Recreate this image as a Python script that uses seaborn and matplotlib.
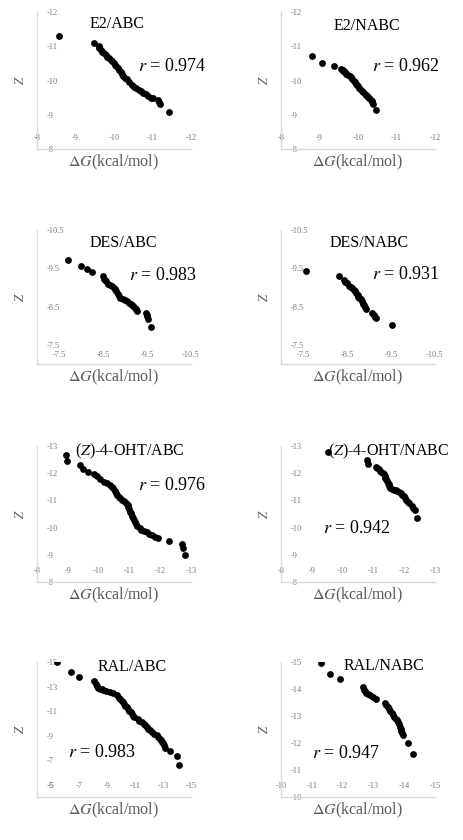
"""
Correlación entre ΔG de acoplamiento y puntuación Z
(8 paneles: E2, DES, (Z)-4-OHT y RAL frente a ABC / NABC).
"""

import matplotlib
matplotlib.use('Agg')
import matplotlib.pyplot as plt
import seaborn as sns
from matplotlib.ticker import FixedLocator, FuncFormatter

# ---- datos ----
e2_abc_dg = [-8.58, -9.48, -9.60, -9.62, -9.66, -9.70, -9.74, -9.78, -9.82, -9.88,
             -9.92, -9.96, -10.00, -10.03, -10.06, -10.10, -10.13, -10.17, -10.20, -10.24,
             -10.28, -10.33, -10.40, -10.46, -10.52, -10.58, -10.64, -10.70, -10.76, -10.82,
             -10.88, -10.96, -11.00, -11.14, -11.17, -11.20, -11.44]
e2_abc_z = [-11.30, -11.10, -11.02, -10.96, -10.90, -10.84, -10.80, -10.74, -10.70, -10.66,
            -10.60, -10.56, -10.50, -10.45, -10.41, -10.36, -10.30, -10.25, -10.20, -10.14,
            -10.08, -10.04, -9.97, -9.88, -9.82, -9.77, -9.72, -9.68, -9.64, -9.60,
            -9.56, -9.50, -9.48, -9.44, -9.38, -9.32, -9.09]

e2_nabc_dg = [-8.81, -9.07, -9.38, -9.57, -9.60, -9.62, -9.66, -9.70, -9.75, -9.79,
              -9.82, -9.85, -9.89, -9.92, -9.95, -9.97, -10.00, -10.03, -10.06, -10.10,
              -10.13, -10.17, -10.20, -10.23, -10.26, -10.29, -10.32, -10.36, -10.36, -10.38,
              -10.46]
e2_nabc_z = [-10.71, -10.52, -10.42, -10.34, -10.31, -10.27, -10.24, -10.20, -10.17, -10.13,
             -10.09, -10.05, -10.00, -9.95, -9.91, -9.87, -9.83, -9.79, -9.75, -9.70,
             -9.66, -9.61, -9.58, -9.54, -9.51, -9.48, -9.46, -9.41, -9.36, -9.31,
             -9.13]

des_abc_dg = [-7.71, -8.01, -8.14, -8.26, -8.51, -8.52, -8.54, -8.57, -8.62, -8.66,
              -8.70, -8.74, -8.77, -8.80, -8.83, -8.86, -8.89, -8.96, -9.00, -9.04,
              -9.10, -9.13, -9.16, -9.19, -9.23, -9.25, -9.27, -9.47, -9.49, -9.51,
              -9.53, -9.60]
des_abc_z = [-9.72, -9.57, -9.49, -9.41, -9.31, -9.23, -9.20, -9.16, -9.10, -9.07,
             -9.05, -8.99, -8.95, -8.91, -8.82, -8.78, -8.73, -8.69, -8.67, -8.65,
             -8.60, -8.56, -8.53, -8.52, -8.47, -8.43, -8.39, -8.33, -8.29, -8.26,
             -8.17, -7.97]

des_nabc_dg = [-7.56, -8.31, -8.43, -8.46, -8.50, -8.55, -8.58, -8.61, -8.66, -8.68,
               -8.70, -8.74, -8.76, -8.78, -8.81, -8.83, -8.86, -8.88, -8.90, -8.93,
               -9.07, -9.11, -9.13, -9.16, -9.53]
des_nabc_z = [-9.44, -9.29, -9.19, -9.15, -9.12, -9.05, -9.02, -8.99, -8.93, -8.90,
              -8.86, -8.79, -8.76, -8.73, -8.69, -8.65, -8.56, -8.53, -8.50, -8.43,
              -8.34, -8.28, -8.24, -8.19, -8.03]

oht_abc_dg = [-8.93, -8.99, -9.38, -9.49, -9.67, -9.84, -9.94, -10.05, -10.16, -10.27,
              -10.38, -10.43, -10.48, -10.54, -10.57, -10.61, -10.66, -10.70, -10.75, -10.81,
              -10.89, -10.94, -10.97, -11.00, -11.02, -11.05, -11.09, -11.12, -11.15, -11.19,
              -11.22, -11.26, -11.33, -11.39, -11.46, -11.56, -11.65, -11.73, -11.83, -11.94,
              -12.27, -12.70, -12.75, -12.82]
oht_abc_z = [-12.68, -12.44, -12.29, -12.17, -12.06, -11.97, -11.88, -11.78, -11.69, -11.63,
             -11.57, -11.51, -11.45, -11.33, -11.26, -11.20, -11.14, -11.08, -11.02, -10.98,
             -10.90, -10.82, -10.75, -10.68, -10.59, -10.52, -10.43, -10.36, -10.29, -10.21,
             -10.14, -10.07, -9.98, -9.92, -9.88, -9.82, -9.77, -9.74, -9.67, -9.61,
             -9.49, -9.39, -9.25, -9.00]

oht_nabc_dg = [-9.54, -10.79, -10.83, -11.09, -11.13, -11.17, -11.22, -11.26, -11.30, -11.34,
               -11.37, -11.39, -11.42, -11.45, -11.48, -11.50, -11.52, -11.55, -11.61, -11.66,
               -11.72, -11.77, -11.83, -11.88, -11.93, -11.99, -12.02, -12.07, -12.13, -12.17,
               -12.24, -12.29, -12.35, -12.42]
oht_nabc_z = [-12.78, -12.47, -12.32, -12.23, -12.19, -12.14, -12.09, -12.04, -11.99, -11.96,
              -11.90, -11.83, -11.77, -11.71, -11.65, -11.59, -11.53, -11.46, -11.43, -11.40,
              -11.37, -11.34, -11.30, -11.26, -11.21, -11.16, -11.10, -11.03, -10.95, -10.89,
              -10.79, -10.73, -10.64, -10.35]

ral_abc_dg = [-5.44, -6.44, -6.99, -8.09, -8.21, -8.31, -8.38, -8.50, -8.62, -8.74,
              -8.93, -9.22, -9.45, -9.74, -9.84, -9.93, -10.05, -10.12, -10.22, -10.32,
              -10.41, -10.51, -10.60, -10.70, -10.77, -10.84, -10.94, -11.18, -11.32, -11.49,
              -11.66, -11.75, -11.85, -11.94, -12.04, -12.21, -12.33, -12.56, -12.66, -12.76,
              -12.85, -12.92, -12.99, -13.09, -13.16, -13.52, -14.00, -14.12]
ral_abc_z = [-14.99, -14.21, -13.78, -13.46, -13.19, -13.05, -12.92, -12.84, -12.79, -12.70,
             -12.65, -12.52, -12.44, -12.30, -12.06, -11.95, -11.85, -11.71, -11.58, -11.44,
             -11.31, -11.17, -11.04, -10.91, -10.77, -10.64, -10.50, -10.32, -10.23, -10.15,
             -9.97, -9.83, -9.70, -9.56, -9.43, -9.30, -9.16, -9.03, -8.89, -8.76,
             -8.62, -8.49, -8.36, -8.22, -8.03, -7.77, -7.34, -6.61]

ral_nabc_dg = [-11.30, -11.58, -11.92, -12.65, -12.68, -12.72, -12.76, -12.83, -12.90, -12.98,
               -13.07, -13.37, -13.41, -13.46, -13.50, -13.54, -13.59, -13.63, -13.66, -13.72,
               -13.77, -13.80, -13.83, -13.86, -13.88, -13.90, -13.93, -13.96, -14.13, -14.28]
ral_nabc_z = [-14.96, -14.57, -14.36, -14.07, -13.95, -13.91, -13.86, -13.81, -13.77, -13.70,
              -13.64, -13.49, -13.40, -13.33, -13.27, -13.20, -13.12, -13.05, -12.96, -12.90,
              -12.84, -12.78, -12.72, -12.59, -12.53, -12.43, -12.36, -12.28, -12.00, -11.60]

titulos = ['E2/ABC', 'E2/NABC', 'DES/ABC', 'DES/NABC',
           '($Z$)-4-OHT/ABC', '($Z$)-4-OHT/NABC', 'RAL/ABC', 'RAL/NABC']
valores_r = ['0.974', '0.962', '0.983', '0.931', '0.976', '0.942', '0.983', '0.947']

lims = [(-8, -12), (-8, -12), (-7, -10.5), (-7, -10.5),
        (-8, -13), (-8, -13), (-4, -15), (-10, -15)]
ticks = [[-8, -9, -10, -11, -12], [-8, -9, -10, -11, -12],
         [-7.5, -8.5, -9.5, -10.5], [-7.5, -8.5, -9.5, -10.5],
         [-8, -9, -10, -11, -12, -13], [-8, -9, -10, -11, -12, -13],
         [-5, -7, -9, -11, -13, -15], [-10, -11, -12, -13, -14, -15]]

series = [(e2_abc_dg, e2_abc_z), (e2_nabc_dg, e2_nabc_z),
          (des_abc_dg, des_abc_z), (des_nabc_dg, des_nabc_z),
          (oht_abc_dg, oht_abc_z), (oht_nabc_dg, oht_nabc_z),
          (ral_abc_dg, ral_abc_z), (ral_nabc_dg, ral_nabc_z)]

# posiciones de texto (coordenadas de ejes)
pos_titulo = [(0.52, 0.91), (0.56, 0.90), (0.56, 0.90), (0.57, 0.90),
              (0.60, 0.96), (0.70, 0.96), (0.62, 0.96), (0.67, 0.97)]
pos_r = [(0.88, 0.60), (0.81, 0.60), (0.82, 0.66), (0.81, 0.67),
         (0.88, 0.71), (0.49, 0.39), (0.42, 0.33), (0.42, 0.32)]

sns.set_theme(style='white')
plt.rcParams['font.family'] = ['Liberation Serif', 'DejaVu Serif']
plt.rcParams['mathtext.fontset'] = 'stix'

GRIS = '#595959'
GRIS_TICK = '#7a7a7a'
fig = plt.figure(figsize=(4.64, 8.4), dpi=100)

izq = [37 / 464, 281 / 464]
filas = [(12, 149), (230, 364), (446, 582), (662, 797)]

for i, (dg, z) in enumerate(series):
    top, bot = filas[i // 2]
    ax = fig.add_axes([izq[i % 2], 1 - bot / 840, 154 / 464, (bot - top) / 840])
    sns.scatterplot(x=dg, y=z, ax=ax, color='black', s=24, linewidth=0, zorder=3)

    lo, hi = lims[i]
    ax.set_xlim(lo, hi)
    ax.set_ylim(lo, hi)
    decimales = 1 if i in (2, 3) else 0
    fmt = FuncFormatter(lambda v, p, d=decimales: f'{v:.{d}f}')
    for eje in (ax.xaxis, ax.yaxis):
        eje.set_major_locator(FixedLocator(ticks[i]))
        eje.set_major_formatter(fmt)

    ax.tick_params(axis='both', length=0, labelsize=6, labelcolor=GRIS_TICK)
    ax.tick_params(axis='y', pad=-7)
    ax.tick_params(axis='x', pad=-6.5 if i in (2, 3) else -8)
    for lbl in ax.get_yticklabels():
        lbl.set_ha('left')
    for lbl in ax.get_xticklabels():
        lbl.set_va('center')

    for lado in ('top', 'right'):
        ax.spines[lado].set_visible(False)
    for lado in ('left', 'bottom'):
        ax.spines[lado].set_color('#d9d9d9')
        ax.spines[lado].set_linewidth(1)

    ax.set_xlabel(r'$\Delta G$(kcal/mol)', fontsize=11.5, color=GRIS, labelpad=3)
    ax.set_ylabel('$Z$', fontsize=9, color=GRIS, labelpad=7)

    ax.text(*pos_titulo[i], titulos[i], transform=ax.transAxes, ha='center',
            va='center', fontsize=11.5, color='black')
    ax.text(*pos_r[i], f'$r$ = {valores_r[i]}', transform=ax.transAxes, ha='center',
            va='center', fontsize=13, color='black')

plt.savefig('out.png', dpi=100)
plt.close()
